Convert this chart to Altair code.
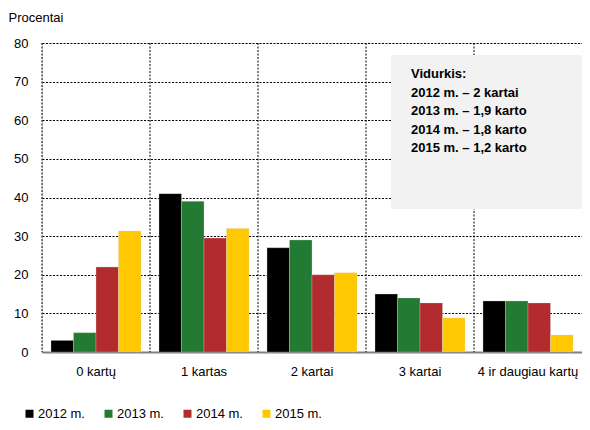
import altair as alt
import pandas as pd

categories = ["0 kartų", "1 kartas", "2 kartai", "3 kartai", "4 ir daugiau kartų"]
years = ["2012 m.", "2013 m.", "2014 m.", "2015 m."]
v2012 = [3, 41, 27, 15, 13.2]
v2013 = [5, 39, 29, 14, 13.2]
v2014 = [22, 29.5, 20, 12.7, 12.7]
v2015 = [31.3, 32, 20.5, 8.8, 4.4]
colors = ["#000000", "#237a32", "#b12b2f", "#ffc800"]
note_lines = ["Vidurkis:", "2012 m. – 2 kartai", "2013 m. – 1,9 karto",
              "2014 m. – 1,8 karto", "2015 m. – 1,2 karto"]

rows = []
for y, vals in zip(years, [v2012, v2013, v2014, v2015]):
    for c, v in zip(categories, vals):
        rows.append({"cat": c, "year": y, "value": v})
df = pd.DataFrame(rows)
cats_df = pd.DataFrame({"cat": categories})

FONT = "Liberation Sans"
W, H = 540, 309

xscale = alt.Scale(domain=categories, paddingInner=0, paddingOuter=0)
yscale = alt.Scale(domain=[0, 80])

bars = alt.Chart(df).mark_bar(stroke="#d8d8d8", strokeWidth=0.5, strokeOpacity=0.6).encode(
    x=alt.X("cat:N", scale=xscale, sort=categories,
            axis=alt.Axis(title=None, orient="bottom", labelAngle=0, labelFontSize=13,
                          labelFont=FONT, labelColor="#000", labelPadding=13, ticks=False,
                          labelAlign="center", bandPosition=0.5,
                          domainColor="#808080", domainWidth=2, grid=False)),
    xOffset=alt.XOffset("year:N", sort=years,
                        scale=alt.Scale(paddingInner=0, paddingOuter=0.4)),
    y=alt.Y("value:Q", scale=yscale,
            axis=alt.Axis(title="Procentai", titleAngle=0, titleAlign="left",
                          titleBaseline="middle", titleX=-34, titleY=-26,
                          titleFont=FONT, titleFontSize=13, titleFontWeight="normal",
                          titleColor="#000",
                          values=[0, 10, 20, 30, 40, 50, 60, 70, 80],
                          labelFontSize=13, labelFont=FONT, labelColor="#000",
                          labelPadding=14, ticks=False, domain=False,
                          grid=True, gridColor="#000", gridDash=[2, 1.5], gridWidth=1)),
    color=alt.Color("year:N", sort=years,
                    scale=alt.Scale(domain=years, range=colors),
                    legend=alt.Legend(title=None, orient="none", direction="horizontal",
                                      columns=4, legendX=-19, legendY=364,
                                      symbolType="square", symbolSize=64,
                                      symbolStrokeWidth=0, labelFontSize=13,
                                      labelFont=FONT, labelColor="#000",
                                      labelOffset=2, columnPadding=17, padding=0)),
)

vgrid = alt.Chart(cats_df).mark_rule(color="#000", strokeDash=[2, 1.5], strokeWidth=1).encode(
    x=alt.X("cat:N", scale=xscale, sort=categories, bandPosition=0, axis=None),
)

box = alt.Chart(cats_df.head(1)).mark_rect(color="#f2f2f2").encode(
    x=alt.value(349), x2=alt.value(540), y=alt.value(12), y2=alt.value(166)
)
note = alt.Chart(cats_df.head(1)).mark_text(
    align="left", baseline="middle", font=FONT, fontSize=13, fontWeight="bold",
    lineHeight=18.6, color="#000"
).encode(x=alt.value(369), y=alt.value(31), text=alt.value(note_lines))

chart = alt.layer(vgrid, box, bars, note).resolve_axis(x="independent").properties(
    width=W, height=H,
    autosize=alt.AutoSizeParams(type="none"),
    padding={"left": 34, "top": 35, "right": 0, "bottom": 70},
).configure_view(fill="#e0e4e1", stroke=None).configure(background="white")

chart.save("out.html", embed_options={"renderer": "svg", "actions": False})
